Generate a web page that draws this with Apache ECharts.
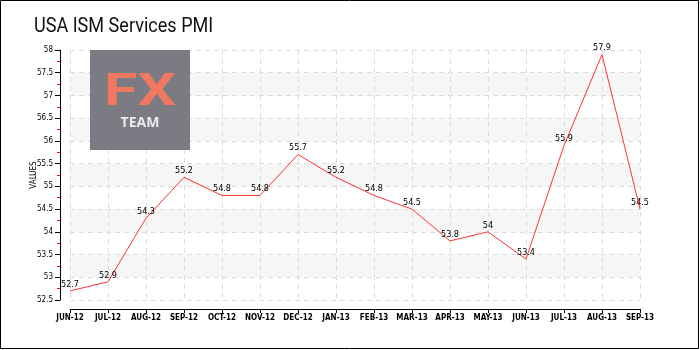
<!DOCTYPE html>
<html>
<head>
<meta charset="utf-8">
<script src="https://cdn.jsdelivr.net/npm/echarts@6/dist/echarts.min.js"></script>
<style>
html,body{margin:0;padding:0;background:#fff;}
#chart{width:700px;height:350px;}
</style>
</head>
<body>
<div id="chart"></div>
<script>
// Monthly ISM services index readings
const months = ['JUN-12','JUL-12','AUG-12','SEP-12','OCT-12','NOV-12','DEC-12','JAN-13','FEB-13','MAR-13','APR-13','MAY-13','JUN-13','JUL-13','AUG-13','SEP-13'];
const pmiValues = [52.7, 52.9, 54.3, 55.2, 54.8, 54.8, 55.7, 55.2, 54.8, 54.5, 53.8, 54.0, 53.4, 55.9, 57.9, 54.5];
const yMin = 52.5, yMax = 58, yStep = 0.5;
const chartTitle = 'USA ISM Services PMI';

const chart = echarts.init(document.getElementById('chart'));
const smallFont = '"DejaVu Sans Condensed", "DejaVu Sans", sans-serif';
const axisFont = { fontFamily: smallFont, fontSize: 8, color: '#000' };

chart.setOption({
  animation: false,
  backgroundColor: '#fff',
  grid: { left: 70, right: 60, top: 50, bottom: 50 },
  graphic: [
    { type: 'rect', z: 100, silent: true, shape: { x: 0.5, y: 0.5, width: 698, height: 348 },
      style: { fill: 'none', stroke: '#000', lineWidth: 1 } },
    { type: 'text', z: 100, silent: true, x: 34, y: 37, scaleX: 0.86,
      style: { text: chartTitle, fill: '#111', font: '21px Roboto', verticalAlign: 'bottom' } },
    { type: 'rect', z: 1, silent: true, shape: { x: 90, y: 50, width: 100, height: 100 },
      style: { fill: '#7b7b83' } },
    { type: 'text', z: 2, silent: true, x: 140, y: 116, scaleX: 1.35, originX: 0, originY: 0,
      style: { text: 'FX', fill: '#f07760', font: 'bold 45px Roboto', align: 'center', verticalAlign: 'bottom' } },
    { type: 'text', z: 2, silent: true, x: 140, y: 130,
      style: { text: 'TEAM', fill: '#ececec', font: 'bold 14px "Open Sans"', align: 'center', verticalAlign: 'bottom' } }
  ],
  xAxis: {
    type: 'category',
    data: months,
    boundaryGap: false,
    offset: 9,
    axisLine: { lineStyle: { color: '#000', width: 1 } },
    axisTick: { show: true, alignWithLabel: true, length: 4, lineStyle: { color: '#000' } },
    axisLabel: Object.assign({ margin: 5, interval: 0, fontWeight: 'bold' }, axisFont),
    splitLine: { show: true, lineStyle: { color: '#dcdcdc', type: [5, 4] } }
  },
  yAxis: {
    type: 'value',
    min: yMin, max: yMax, interval: yStep,
    offset: 10,
    name: 'VALUES',
    nameLocation: 'middle',
    nameGap: 22,
    nameMoveOverlap: false,
    nameTextStyle: axisFont,
    axisLine: { show: true, lineStyle: { color: '#000', width: 1 } },
    axisTick: { show: true, length: 5, lineStyle: { color: '#000' } },
    minorTick: { show: true, splitNumber: 2, length: 3, lineStyle: { color: '#ff0000' } },
    axisLabel: Object.assign({ margin: 7 }, axisFont),
    splitLine: { show: true, lineStyle: { color: '#dcdcdc', type: [5, 4] } },
    splitArea: { show: true, areaStyle: { color: ['rgba(255,255,255,0)', '#f6f6f6'] } }
  },
  series: [{
    type: 'line',
    data: pmiValues,
    symbol: 'circle',
    symbolSize: 2,
    showSymbol: true,
    itemStyle: { color: 'rgba(255,51,51,0)', borderWidth: 0 },
    z: 5,
    lineStyle: { color: '#ff3333', width: 1 },
    label: {
      show: true, position: 'top', distance: 1,
      fontFamily: smallFont, fontSize: 9, color: '#000',
      formatter: p => String(p.value)
    },
    labelLayout: { hideOverlap: false }
  }]
});
</script>
</body>
</html>
